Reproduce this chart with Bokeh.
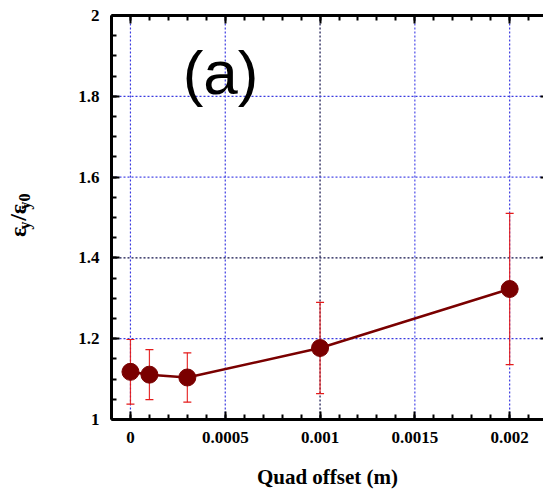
from bokeh.plotting import figure
from bokeh.models import (ColumnDataSource, FixedTicker, LinearAxis, Range1d, Span,
                          Whisker, TeeHead, Label, CustomLabelingPolicy)
from bokeh.embed import file_html
from bokeh.resources import INLINE

# ---- data ----
quad_offset = [0.0, 0.0001, 0.0003, 0.001, 0.002]
emit_ratio = [1.118, 1.111, 1.104, 1.177, 1.323]
emit_err = [0.080, 0.062, 0.061, 0.113, 0.187]

x_major = [0.0, 0.0005, 0.001, 0.0015, 0.002]
x_major_labels = ["0", "0.0005", "0.001", "0.0015", "0.002"]
x_minor = [round(-0.0001 + 0.0001 * i, 4) for i in range(24)]
y_major = [1.0, 1.2, 1.4, 1.6, 1.8, 2.0]
y_major_labels = ["1", "1.2", "1.4", "1.6", "1.8", "2"]
y_minor = [round(1.0 + 0.05 * i, 2) for i in range(21)]

x_grid_colors = ["#3a3ae0", "#3a3ae0", "#10104a", "#4a4ae8", "#3a3ae0"]
y_grid_vals = [1.2, 1.4, 1.6, 1.8]
y_grid_colors = ["#3a3ae0", "#10104a", "#4a4ae8", "#3a3ae0"]

upper = [v + e for v, e in zip(emit_ratio, emit_err)]
lower = [v - e for v, e in zip(emit_ratio, emit_err)]
src = ColumnDataSource(dict(x=quad_offset, y=emit_ratio, upper=upper, lower=lower))

p = figure(width=543, height=491, output_backend="svg", toolbar_location=None,
           x_range=Range1d(-0.0001, 0.0021785), y_range=Range1d(1.0, 2.0),
           min_border_left=111, min_border_right=0, min_border_top=15,
           min_border_bottom=70, x_axis_location=None, y_axis_location=None)
p.outline_line_color = None
p.background_fill_color = "white"
p.border_fill_color = "white"
p.xgrid.visible = False
p.ygrid.visible = False

serif = "Liberation Serif"
NB = "\u00a0"
no_labels = CustomLabelingPolicy(code="""
    for (const i of indices) indices.unset(i)
    return indices
""")

def style_axis(ax, ticks, minor, labels=None, show_labels=True, line=True, tick_in=8, minor_in=5):
    ax.ticker = FixedTicker(ticks=ticks, minor_ticks=minor)
    ax.axis_line_width = 3
    ax.axis_line_color = "black" if line else None
    ax.major_tick_line_width = 2
    ax.minor_tick_line_width = 2
    ax.major_tick_in = tick_in
    ax.major_tick_out = 0
    ax.minor_tick_in = minor_in
    ax.minor_tick_out = 0
    ax.axis_label_text_color = "black"
    ax.axis_label_text_font = serif
    ax.axis_label_text_font_style = "bold"
    if show_labels:
        ax.major_label_overrides = {t: l for t, l in zip(ticks, labels)}
        ax.major_label_text_font = serif
        ax.major_label_text_font_style = "bold"
        ax.major_label_text_font_size = "17px"
        ax.major_label_text_color = "black"
    else:
        ax.major_label_text_font_size = "0px"
        ax.major_label_standoff = 0
        ax.major_label_policy = no_labels

# bottom axis
xb = LinearAxis()
style_axis(xb, x_major, x_minor, x_major_labels)
xb.major_label_standoff = 12
xb.axis_label = "Quad offset (m)"
xb.axis_label_text_font_size = "21px"
xb.axis_label_standoff = 19
p.add_layout(xb, "below")

# top axis (ticks only)
xt = LinearAxis()
style_axis(xt, x_major, x_minor, show_labels=False)
p.add_layout(xt, "above")

# right axis (short ticks only)
yr = LinearAxis()
style_axis(yr, y_major, [], show_labels=False, line=False, tick_in=3, minor_in=0)
p.add_layout(yr, "right")

# left axis with subscript part of the label
yl = LinearAxis()
style_axis(yl, y_major, y_minor, y_major_labels)
yl.major_label_standoff = 12
yl.axis_label = NB * 3 + "y" + NB * 3 + "y0"
yl.axis_label_text_font_size = "16px"
yl.axis_label_standoff = 42
p.add_layout(yl, "left")

# outer left axis carrying the epsilon part of the label
ye = LinearAxis()
ye.ticker = FixedTicker(ticks=[])
ye.axis_line_color = None
ye.major_tick_in = 0
ye.major_tick_out = 0
ye.minor_tick_in = 0
ye.minor_tick_out = 0
ye.major_label_text_font_size = "0px"
ye.major_label_standoff = 0
ye.axis_label = "ε" + NB + "/ε" + NB
ye.axis_label_text_font = serif
ye.axis_label_text_font_style = "bold"
ye.axis_label_text_font_size = "24px"
ye.axis_label_text_color = "black"
ye.axis_label_standoff = -17
p.add_layout(ye, "left")

# grid lines
for xv, c in zip(x_major, x_grid_colors):
    p.add_layout(Span(location=xv, dimension="height", line_color=c,
                      line_width=1.2, line_dash="2 2", level="underlay"))
for yv, c in zip(y_grid_vals, y_grid_colors):
    p.add_layout(Span(location=yv, dimension="width", line_color=c,
                      line_width=1.2, line_dash="2 2", level="underlay"))

# error bars
wh = Whisker(source=src, base="x", upper="upper", lower="lower",
             line_color="#e41a1a", line_width=1.2, line_alpha=0.9,
             upper_head=TeeHead(size=8, line_color="#e41a1a", line_width=1.2),
             lower_head=TeeHead(size=8, line_color="#e41a1a", line_width=1.2))
p.add_layout(wh)

p.line("x", "y", source=src, line_color="#7a0000", line_width=2.5)
p.scatter("x", "y", source=src, size=17, fill_color="#7a0000", line_color="#7a0000")

# panel tag
p.add_layout(Label(x=0.000475, y=1.86, text="(a)", text_font="Liberation Sans",
                   text_font_size="62px", text_align="center",
                   text_baseline="alphabetic", text_color="black"))

open("out.html", "w").write(file_html(p, INLINE))
